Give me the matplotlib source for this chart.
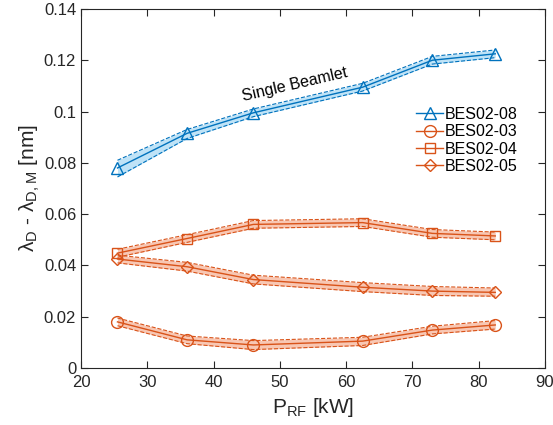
import matplotlib
matplotlib.use("Agg")
import matplotlib.pyplot as plt
from matplotlib.ticker import FuncFormatter

plt.rcParams['font.family'] = ['Liberation Sans', 'DejaVu Sans']

p_rf = [25.5, 36.0, 46.0, 62.5, 73.0, 82.5]

bes08 = [0.0780, 0.0915, 0.0995, 0.1095, 0.1200, 0.1225]
bes08_lo = [0.0745, 0.0895, 0.0980, 0.1080, 0.1185, 0.1210]
bes08_hi = [0.0810, 0.0930, 0.1010, 0.1110, 0.1215, 0.1240]

bes03 = [0.0180, 0.0110, 0.0090, 0.0105, 0.0148, 0.0168]
bes03_lo = [0.0165, 0.0095, 0.0072, 0.0088, 0.0133, 0.0152]
bes03_hi = [0.0195, 0.0125, 0.0107, 0.0120, 0.0163, 0.0185]

bes04 = [0.0448, 0.0505, 0.0560, 0.0567, 0.0525, 0.0515]
bes04_lo = [0.0432, 0.0490, 0.0545, 0.0552, 0.0510, 0.0500]
bes04_hi = [0.0463, 0.0520, 0.0575, 0.0582, 0.0540, 0.0530]

bes05 = [0.0425, 0.0395, 0.0345, 0.0315, 0.0300, 0.0295]
bes05_lo = [0.0410, 0.0378, 0.0328, 0.0298, 0.0283, 0.0280]
bes05_hi = [0.0440, 0.0412, 0.0362, 0.0333, 0.0318, 0.0312]

blue = '#0072BD'
orange = '#D95319'
blue_fill = '#BFE3F7'
orange_fill = '#F8C7B3'

fig = plt.figure(figsize=(5.53, 4.25), dpi=100, facecolor='white')
ax = fig.add_axes([0.1465, 0.134, 0.839, 0.845])

series = [
    ('BES02-08', bes08, bes08_lo, bes08_hi, blue, blue_fill, '^'),
    ('BES02-03', bes03, bes03_lo, bes03_hi, orange, orange_fill, 'o'),
    ('BES02-04', bes04, bes04_lo, bes04_hi, orange, orange_fill, 's'),
    ('BES02-05', bes05, bes05_lo, bes05_hi, orange, orange_fill, 'D'),
]

for name, y, lo, hi, c, fc, m in series:
    ax.fill_between(p_rf, lo, hi, color=fc, lw=0)
    ax.plot(p_rf, lo, '--', color=c, lw=0.8)
    ax.plot(p_rf, hi, '--', color=c, lw=0.8)
    ms = {'^': 9, 'o': 8.5, 's': 7.5, 'D': 6.5}[m]
    ax.plot(p_rf, y, '-', color=c, lw=1.0, marker=m, ms=ms,
            mfc='none', mec=c, mew=1.0, label=name)

ax.text(52.3, 0.1105, 'Single Beamlet', rotation=13, fontsize=11.5,
        ha='center', va='center')

ax.set_xlim(20, 90)
ax.set_ylim(0, 0.14)
ax.set_xticks(range(20, 91, 10))
ax.set_yticks([0, 0.02, 0.04, 0.06, 0.08, 0.1, 0.12, 0.14])
ax.yaxis.set_major_formatter(FuncFormatter(lambda v, p: '%g' % round(v, 3)))
ax.tick_params(direction='in', top=True, right=True, labelsize=12,
               colors='#262626', length=5, width=0.8)
ax.tick_params(axis='x', pad=5)
for s in ax.spines.values():
    s.set_color('#262626')
    s.set_linewidth(0.8)

ax.set_xlabel('P$_{\\mathregular{RF}}$ [kW]', fontsize=15, color='#262626')
ax.set_ylabel('$\\mathregular{\\lambda_D}$ - $\\mathregular{\\lambda_{D,M}}$ [nm]',
              fontsize=15, color='#262626', labelpad=1)

ax.legend(loc='upper right', bbox_to_anchor=(0.955, 0.745), frameon=False,
          fontsize=11.5, handlelength=1.7, handletextpad=0.1, labelspacing=0.15,
          borderaxespad=0)

fig.savefig('out.png', dpi=100, facecolor='white')
